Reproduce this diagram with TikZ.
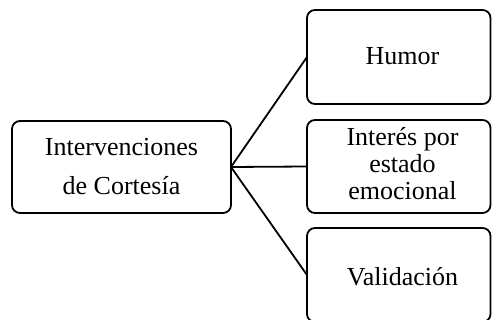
\documentclass[tikz,border=0pt]{standalone}
\usepackage{fontspec}
\setmainfont{Liberation Serif}
\begin{document}
\begin{tikzpicture}[x=1pt,y=-1pt,
  box/.style={draw=black,line width=1.8pt,rounded corners=8pt,inner sep=0pt,outer sep=0pt,minimum width=#1},
  txt/.style={anchor=base,inner sep=0pt,font=\fontsize{26}{30}\selectfont},
  link/.style={draw=black,line width=1.8pt}]
\useasboundingbox (0,0) rectangle (492,320);
\clip (0,0) rectangle (492,320);
\node[box=219pt,minimum height=92pt] (root) at (121.5,167) {};
\node[box=183.5pt,minimum height=94pt] (hum) at (398.75,57) {};
\node[box=183.5pt,minimum height=93pt] (int) at (398.75,166.5) {};
\node[box=183.5pt,minimum height=94pt] (val) at (398.75,275) {};
\node[txt] (r1) at (121.5,156) {Intervenciones};
\node[txt] (r2) at (121.5,195) {de Cortesía};
\node[txt] (h1) at (402.5,65) {Humor};
\node[txt] (i1) at (402.5,146) {Interés por};
\node[txt] (i2) at (402.5,173) {estado};
\node[txt] (i3) at (402.5,200) {emocional};
\node[txt] (v1) at (402.5,285) {Validación};
\draw[link] (root.east) -- (hum.west);
\draw[link] (root.east) -- (int.west);
\draw[link] (root.east) -- (val.west);
\end{tikzpicture}
\end{document}
